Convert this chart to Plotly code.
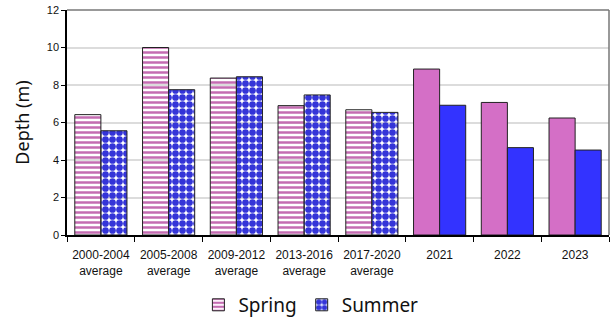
import plotly.graph_objects as go

# Category labels along the x axis
categories = [
    "2000-2004<br>average", "2005-2008<br>average", "2009-2012<br>average",
    "2013-2016<br>average", "2017-2020<br>average", "2021", "2022", "2023",
]

# Depth values (m) per season
spring = [6.42, 10.0, 8.37, 6.9, 6.68, 8.85, 7.07, 6.24]
summer = [5.56, 7.75, 8.44, 7.47, 6.54, 6.92, 4.66, 4.53]

n_avg = 5  # multi-year averages get patterned fills, single years solid


def season_marker(solid, fg, bg, shape, size, solidity):
    n = len(categories)
    return dict(
        color=[fg] * n_avg + [solid] * (n - n_avg),
        line=dict(color="#222222", width=1),
        pattern=dict(
            shape=[shape] * n_avg + [""] * (n - n_avg),
            bgcolor=[bg] * n_avg + [solid] * (n - n_avg),
            size=size,
            solidity=solidity,
            fillmode="replace",
        ),
    )


fig = go.Figure()
fig.add_trace(go.Bar(
    x=categories, y=spring, name="Spring",
    marker=season_marker("#d46fc6", "#c46cb2", "#fdf0fa", "-", 5, 0.5),
))
fig.add_trace(go.Bar(
    x=categories, y=summer, name="Summer",
    marker=season_marker("#3333ff", "#3434d8", "#e2e8ff", ".", 7, 0.72),
))

fig.update_layout(
    width=613, height=321,
    margin=dict(l=67, r=4, t=10, b=86, autoexpand=False),
    paper_bgcolor="white", plot_bgcolor="white",
    barmode="group", bargap=0.23, bargroupgap=0,
    font=dict(family="Liberation Sans, Arial, sans-serif", size=12, color="#111111"),
    showlegend=True,
    legend=dict(
        orientation="h", x=0.45, xanchor="center",
        yref="container", y=0.05, yanchor="middle",
        font=dict(family="Noto Sans, sans-serif", size=19, color="#111111"),
        itemwidth=30, tracegroupgap=0,
    ),
)

fig.update_xaxes(
    showline=True, linecolor="black", linewidth=1.5,
    ticks="outside", tickson="boundaries", ticklen=5, tickcolor="black",
    ticklabelstandoff=8,
    tickfont=dict(size=12, color="#111111"), showgrid=False, automargin=False,
)
fig.update_yaxes(
    range=[0, 12], dtick=2,
    showline=True, linecolor="black", linewidth=1.5,
    ticks="outside", ticklen=4, tickcolor="black",
    tickfont=dict(size=11, color="#111111"),
    gridcolor="#dcdcdc", gridwidth=1.5,
    title=dict(text="Depth (m)", font=dict(family="Noto Sans, sans-serif", size=18, color="#111111"),
               standoff=12),
    zeroline=False, automargin=False,
)

# grey frame on the top and right of the plot area
fig.add_shape(type="line", xref="paper", yref="paper", x0=0, x1=1, y0=1, y1=1,
              line=dict(color="#777777", width=1.5))
fig.add_shape(type="line", xref="paper", yref="paper", x0=1, x1=1, y0=0, y1=1,
              line=dict(color="#777777", width=1.5))

fig.write_html("out.html")
